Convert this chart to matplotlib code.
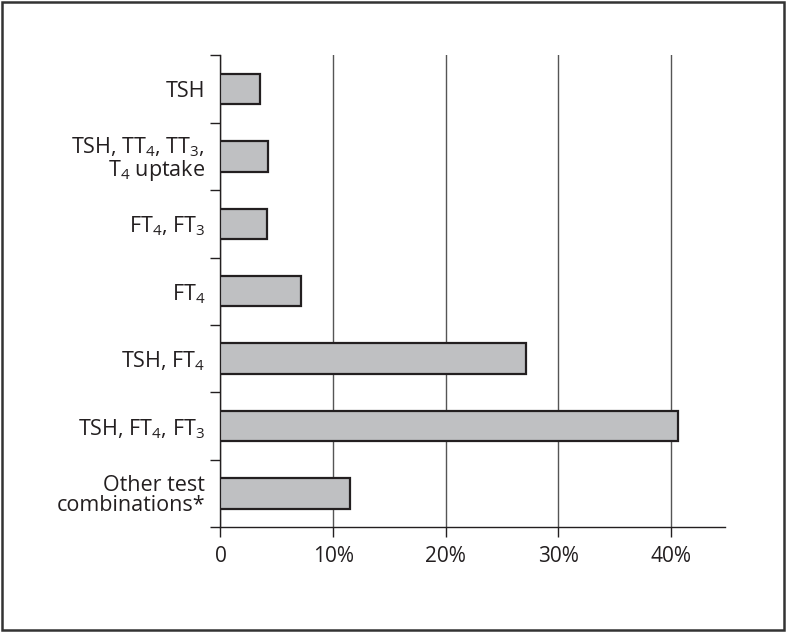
import matplotlib.pyplot as plt
from matplotlib.patches import Rectangle
import numpy as np

plt.rcParams['font.family'] = ['Open Sans', 'DejaVu Sans']
plt.rcParams['mathtext.fontset'] = 'custom'
plt.rcParams['mathtext.rm'] = 'Open Sans'
plt.rcParams['mathtext.it'] = 'Open Sans'

categories = [
    'TSH',
    'TSH, TT$_4$, TT$_3$,\nT$_4$ uptake',
    'FT$_4$, FT$_3$',
    'FT$_4$',
    'TSH, FT$_4$',
    'TSH, FT$_4$, FT$_3$',
    'Other test\ncombinations*',
]
values = [3.5, 4.2, 4.1, 7.15, 27.1, 40.6, 11.5]
xticks = [0, 10, 20, 30, 40]
xticklabels = ['0', '10%', '20%', '30%', '40%']

fig = plt.figure(figsize=(7.86, 6.32), dpi=100)
fig.patches.append(Rectangle((0.002, 0.003), 0.996, 0.994, transform=fig.transFigure,
                             fill=False, edgecolor='#333333', linewidth=1.8))

ax = fig.add_axes([0.2805, 0.1661, 0.6419, 0.7461])
y = np.arange(len(categories))
ax.barh(y, values, height=0.45, color='#bfc0c2', edgecolor='#231f20',
        linewidth=1.6, zorder=3)

ax.set_xlim(0, 44.8)
ax.set_ylim(len(categories) - 0.5, -0.5)

ax.set_xticks(xticks)
ax.set_xticklabels(xticklabels, fontsize=15)
ax.tick_params(axis='x', direction='out', length=7.5, width=1, color='#231f20',
               pad=6, labelcolor='#231f20')
ax.xaxis.grid(True, color='#555555', linewidth=1, zorder=0)

ax.set_yticks(np.arange(len(categories) + 1) - 0.5)
ax.set_yticklabels([])
ax.set_yticks(y, minor=True)
ax.set_yticklabels(categories, minor=True, fontsize=15.5, ha='right',
                   linespacing=0.95, color='#231f20')
ax.tick_params(axis='y', which='major', direction='out', length=7.5, width=1,
               color='#231f20')
ax.tick_params(axis='y', which='minor', length=0, pad=11)

for side in ['top', 'right']:
    ax.spines[side].set_visible(False)
for side in ['left', 'bottom']:
    ax.spines[side].set_color('#231f20')
    ax.spines[side].set_linewidth(1)

fig.savefig('out.png', dpi=100)
